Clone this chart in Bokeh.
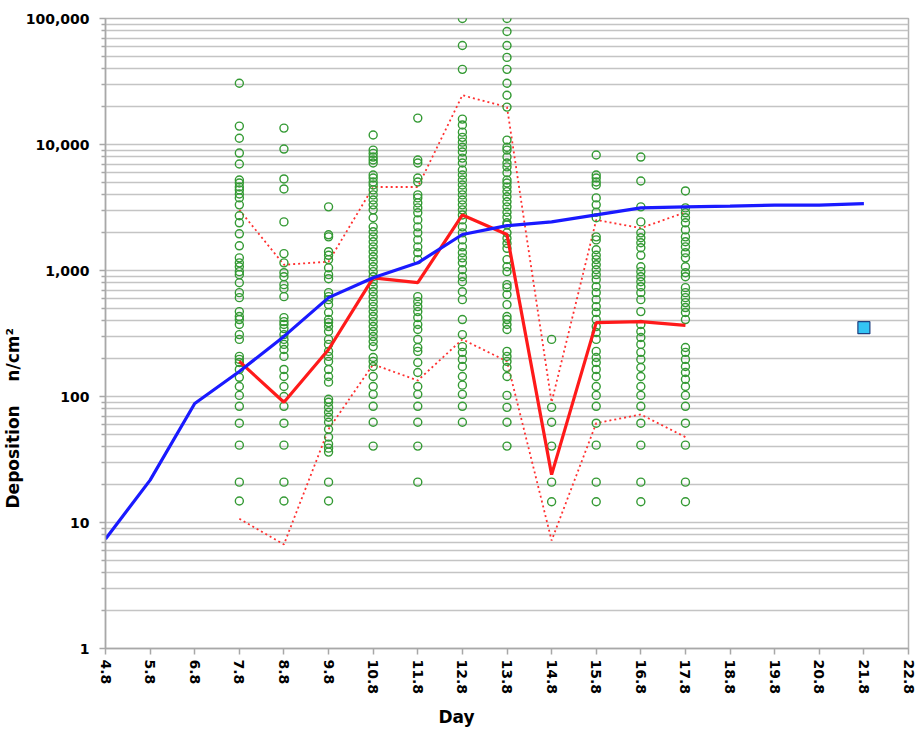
import math
from bokeh.plotting import figure
from bokeh.models import FixedTicker, NumeralTickFormatter, Range1d, Title
from bokeh.embed import file_html
from bokeh.resources import INLINE

# ---------------- data ----------------
x_ticks = [4.8, 5.8, 6.8, 7.8, 8.8, 9.8, 10.8, 11.8, 12.8, 13.8, 14.8,
           15.8, 16.8, 17.8, 18.8, 19.8, 20.8, 21.8, 22.8]
y_ticks = [1, 10, 100, 1000, 10000, 100000]

model_days = [4.8, 5.8, 6.8, 7.8, 8.8, 9.8, 10.8, 11.8, 12.8, 13.8, 14.8,
              15.8, 16.8, 17.8, 18.8, 19.8, 20.8, 21.8]
model_vals = [7.4, 21.7, 88, 158, 300, 609, 875, 1150, 1930, 2270, 2430,
              2760, 3140, 3200, 3240, 3300, 3300, 3400]

meas_days = [7.8, 8.8, 9.8, 10.8, 11.8, 12.8, 13.8, 14.8, 15.8, 16.8, 17.8]
median_vals = [190, 90, 236, 875, 800, 2760, 1930, 24, 386, 393, 367]
upper_vals = [3030, 1110, 1175, 4600, 4600, 24600, 19800, 90, 2520, 2170, 2900]
lower_vals = [10.7, 6.7, 55, 180, 134, 284, 190, 7.2, 61.4, 72, 47.6]

d7_8 = [30600, 14000, 11200, 8550, 7000, 5230, 4950, 4600, 4360, 4050, 3770,
        3320, 2720, 2390, 1955, 1570, 1260, 1150, 1070, 979, 927, 800, 667,
        609, 472, 431, 408, 373, 310, 284, 208, 197, 186, 164, 142, 120, 102,
        83.6, 61.4, 41.1, 20.9, 14.8]
d8_8 = [13500, 9200, 5330, 4440, 2430, 1360, 1150, 961, 893, 772, 718, 620,
        423, 393, 373, 346, 310, 284, 259, 236, 208, 164, 144, 120, 100, 83.6,
        61.4, 41.1, 20.9, 14.8]
d9_8 = [3200, 1920, 1850, 1410, 1320, 1220, 1050, 927, 861, 667, 620, 587,
        536, 464, 408, 386, 359, 328, 284, 259, 228, 208, 190, 164, 144, 130,
        95, 90, 82, 75, 68.5, 62.5, 55, 47.6, 41.9, 38.9, 36.2, 20.9, 14.8]
d10_8 = [11900, 9030, 8500, 7950, 7530, 7130, 5730, 5420, 5040, 4770, 4360,
         3980, 3630, 3320, 3030, 2620, 2220, 2030, 1850, 1690, 1540, 1410,
         1285, 1175, 1070, 979, 893, 815, 744, 679, 620, 566, 517, 472, 431,
         393, 359, 328, 299, 273, 249, 204, 190, 173, 144, 120, 104, 83.6,
         62.5, 40.4]
d11_8 = [16200, 7530, 7130, 5420, 5040, 3980, 3770, 3440, 3140, 2870, 2520,
         2220, 1990, 1750, 1540, 1385, 1220, 620, 566, 517, 472, 423, 373,
         340, 284, 245, 228, 186, 155, 120, 104, 83.6, 62.5, 40.4, 20.9]
d12_8 = [100000, 61100, 39500, 15900, 14300, 12530, 11400, 10440, 9500, 8720,
         7800, 7130, 6270, 5730, 5230, 4770, 4360, 3980, 3630, 3320, 3030,
         2760, 2520, 2220, 1990, 1750, 1540, 1385, 1260, 1150, 1014, 893, 815,
         679, 587, 408, 310, 249, 224, 197, 173, 144, 123, 104, 83.6, 62.5]
d13_8 = [100000, 78900, 61100, 49100, 39500, 30600, 24600, 19800, 10840, 9500,
         9030, 7950, 7130, 6640, 5970, 5230, 4950, 4600, 4230, 3850, 3510,
         3200, 2900, 2650, 2390, 2300, 1990, 1800, 1640, 1500, 1220, 1070,
         979, 772, 731, 644, 536, 431, 408, 373, 340, 228, 208, 190, 170, 144,
         102, 82, 62.5, 40.4]
d14_8 = [284, 82, 62.5, 40.4, 20.9, 14.6]
d15_8 = [8250, 5730, 5420, 5040, 4770, 3770, 3320, 2900, 2620, 1850, 1750,
         1460, 1320, 1220, 1110, 1014, 927, 846, 744, 667, 587, 517, 464, 408,
         359, 322, 284, 228, 204, 186, 164, 144, 120, 102, 83.6, 61.4, 41.1,
         20.9, 14.6]
d16_8 = [7950, 5130, 3200, 2430, 1990, 1820, 1660, 1515, 1320, 1070, 979, 893,
         815, 744, 667, 587, 472, 373, 328, 294, 259, 224, 197, 170, 144, 120,
         102, 83.6, 61.4, 41.1, 20.9, 14.6]
d17_8 = [4280, 3140, 2870, 2620, 2390, 2100, 1850, 1690, 1540, 1385, 1260,
         1070, 961, 893, 731, 667, 609, 556, 508, 464, 408, 245, 224, 197, 173,
         155, 137, 120, 102, 83.6, 61.4, 41.1, 20.9, 14.6]
sample_cols = [d7_8, d8_8, d9_8, d10_8, d11_8, d12_8, d13_8, d14_8, d15_8,
               d16_8, d17_8]

ref_day = [21.8]
ref_val = [352]

y_title = "Deposition\u00a0\u00a0\u00a0\u00a0n/cm\u00b2"
x_title = "Day"

# ---------------- figure ----------------
FONT = "DejaVu Sans"

p = figure(width=915, height=733, output_backend="svg", toolbar_location=None,
           y_axis_type="log", x_range=Range1d(4.8, 22.8),
           y_range=Range1d(1, 100000),
           min_border_left=104, min_border_right=7, min_border_top=18,
           min_border_bottom=83)
p.background_fill_color = "white"
p.border_fill_color = "white"
p.outline_line_color = "#b4b4b4"
p.outline_line_width = 1.5

minor = [m * 10 ** e for e in range(0, 5) for m in range(2, 10)]
p.yaxis.ticker = FixedTicker(ticks=y_ticks, minor_ticks=minor)
p.yaxis.formatter = NumeralTickFormatter(format="0,0")
p.xaxis.ticker = FixedTicker(ticks=x_ticks, minor_ticks=[])
p.xaxis.major_label_overrides = {t: f"{t:.1f}" for t in x_ticks}

p.xgrid.grid_line_color = None
p.ygrid.grid_line_color = "#c4c4c4"
p.ygrid.grid_line_width = 1.5
p.ygrid.minor_grid_line_color = "#c4c4c4"
p.ygrid.minor_grid_line_width = 1.5

for ax in (p.xaxis, p.yaxis):
    ax.axis_line_color = "#a8a8a8"
    ax.axis_line_width = 1.5
    ax.major_tick_line_color = "#a8a8a8"
    ax.minor_tick_line_color = "#a8a8a8"
    ax.major_tick_line_width = 1.5
    ax.minor_tick_line_width = 1.5
    ax.major_tick_in = 0
    ax.minor_tick_in = 0
    ax.major_label_text_font = FONT
    ax.major_label_text_font_style = "bold"
    ax.major_label_text_color = "black"

p.yaxis.major_tick_out = 6
p.yaxis.minor_tick_out = 4
p.yaxis.major_label_text_font_size = "14px"
p.yaxis.major_label_standoff = 10

p.xaxis.major_tick_out = 6
p.xaxis.major_label_text_font_size = "14px"
p.xaxis.major_label_orientation = -math.pi / 2
p.xaxis.major_label_standoff = 5

# axis titles as side titles (allows positioning along the axis)
p.add_layout(Title(text=y_title, align="left", offset=140, standoff=0,
                   text_font=FONT, text_font_style="bold",
                   text_font_size="17px", text_color="black"), "left")
p.add_layout(Title(text=x_title, align="left", offset=333, standoff=14,
                   text_font=FONT, text_font_style="bold",
                   text_font_size="17px", text_color="black"), "below")

# measured samples
sx, sy = [], []
for d, col in zip(meas_days, sample_cols):
    for v in col:
        sx.append(d)
        sy.append(v)

p.line(meas_days, upper_vals, line_color="#ff3030", line_width=1.8,
       line_dash="2 3")
p.line(meas_days, lower_vals, line_color="#ff3030", line_width=1.8,
       line_dash="2 3")
p.scatter(sx, sy, marker="circle", size=8, fill_color=None,
          line_color="#349a34", line_width=1.4)
p.line(meas_days, median_vals, line_color="#ff1a1a", line_width=3.2)
p.line(model_days, model_vals, line_color="#1a1aff", line_width=3.2)
p.scatter(ref_day, ref_val, marker="square", size=12, fill_color="#33c4f4",
          line_color="#1f3f7f", line_width=1.2)

open("out.html", "w").write(file_html(p, INLINE))
